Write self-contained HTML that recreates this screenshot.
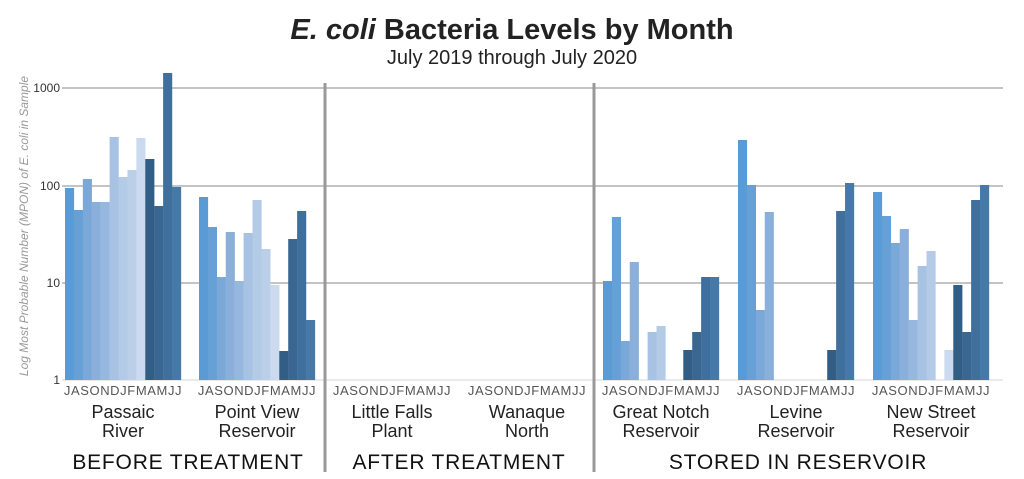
<!DOCTYPE html>
<html><head><meta charset="utf-8"><style>
body{margin:0;background:#fff;}
svg{display:block;font-family:"Liberation Sans",Arial,sans-serif;}
</style></head><body>
<svg width="1024" height="479" viewBox="0 0 1024 479" xmlns="http://www.w3.org/2000/svg">
<defs>
<style>
.c0{fill:#5a9bd5}.c1{fill:#66a0d6}.c2{fill:#7aa9d9}.c3{fill:#8aafdb}.c4{fill:#96b8df}.c5{fill:#a7c2e3}.c6{fill:#b3cbe7}.c7{fill:#bccfe9}.c8{fill:#cbdaee}.c9{fill:#325d85}.c10{fill:#3a6791}.c11{fill:#3f6f9c}.c12{fill:#4678a8}
</style>
</defs>
<text x="512" y="39" text-anchor="middle" font-size="29" font-weight="bold" fill="#222"><tspan font-style="italic">E. coli</tspan> Bacteria Levels by Month</text>
<text x="512" y="64" text-anchor="middle" font-size="20" fill="#222">July 2019 through July 2020</text>
<g stroke="#b0b0b0" stroke-width="1.5">
<line x1="62" y1="88" x2="1003" y2="88"/>
<line x1="62" y1="186" x2="1003" y2="186"/>
<line x1="62" y1="283" x2="1003" y2="283"/>
<line x1="62" y1="380" x2="1003" y2="380" stroke="#e4e4e4"/>
</g>
<g font-size="12" fill="#333" text-anchor="end">
<text x="60" y="92">1000</text><text x="60" y="190">100</text><text x="60" y="287">10</text><text x="60" y="384">1</text>
</g>
<text transform="translate(28,226) rotate(-90)" text-anchor="middle" font-size="12" font-style="italic" fill="#999">Log Most Probable Number (MPON) of E. coli in Sample</text>

<g transform="translate(65,0)">
<rect class="c0" x="0" y="188" width="9.1" height="192"/>
<rect class="c1" x="8.92" y="210" width="9.1" height="170"/>
<rect class="c2" x="17.84" y="179" width="9.1" height="201"/>
<rect class="c3" x="26.76" y="202" width="9.1" height="178"/>
<rect class="c4" x="35.68" y="202" width="9.1" height="178"/>
<rect class="c5" x="44.6" y="137" width="9.1" height="243"/>
<rect class="c6" x="53.52" y="177" width="9.1" height="203"/>
<rect class="c7" x="62.44" y="170" width="9.1" height="210"/>
<rect class="c8" x="71.36" y="138" width="9.1" height="242"/>
<rect class="c9" x="80.28" y="159" width="9.1" height="221"/>
<rect class="c10" x="89.2" y="206" width="9.1" height="174"/>
<rect class="c11" x="98.12" y="73" width="9.1" height="307"/>
<rect class="c12" x="107.04" y="187" width="9.1" height="193"/>
</g>
<g transform="translate(199,0)">
<rect class="c0" x="0" y="197" width="9.1" height="183"/>
<rect class="c1" x="8.92" y="227" width="9.1" height="153"/>
<rect class="c2" x="17.84" y="277" width="9.1" height="103"/>
<rect class="c3" x="26.76" y="232" width="9.1" height="148"/>
<rect class="c4" x="35.68" y="281" width="9.1" height="99"/>
<rect class="c5" x="44.6" y="233" width="9.1" height="147"/>
<rect class="c6" x="53.52" y="200" width="9.1" height="180"/>
<rect class="c7" x="62.44" y="249" width="9.1" height="131"/>
<rect class="c8" x="71.36" y="285" width="9.1" height="95"/>
<rect class="c9" x="80.28" y="351" width="9.1" height="29"/>
<rect class="c10" x="89.2" y="239" width="9.1" height="141"/>
<rect class="c11" x="98.12" y="211" width="9.1" height="169"/>
<rect class="c12" x="107.04" y="320" width="9.1" height="60"/>
</g>
<g transform="translate(603,0)">
<rect class="c0" x="0" y="281" width="9.1" height="99"/>
<rect class="c1" x="8.92" y="217" width="9.1" height="163"/>
<rect class="c2" x="17.84" y="341" width="9.1" height="39"/>
<rect class="c3" x="26.76" y="262" width="9.1" height="118"/>
<rect class="c5" x="44.6" y="332" width="9.1" height="48"/>
<rect class="c6" x="53.52" y="326" width="9.1" height="54"/>
<rect class="c9" x="80.28" y="350" width="9.1" height="30"/>
<rect class="c10" x="89.2" y="332" width="9.1" height="48"/>
<rect class="c11" x="98.12" y="277" width="9.1" height="103"/>
<rect class="c12" x="107.04" y="277" width="9.1" height="103"/>
</g>
<g transform="translate(738,0)">
<rect class="c0" x="0" y="140" width="9.1" height="240"/>
<rect class="c1" x="8.92" y="185" width="9.1" height="195"/>
<rect class="c2" x="17.84" y="310" width="9.1" height="70"/>
<rect class="c3" x="26.76" y="212" width="9.1" height="168"/>
<rect class="c9" x="89.2" y="350" width="9.1" height="30"/>
<rect class="c11" x="98.12" y="211" width="9.1" height="169"/>
<rect class="c12" x="107.04" y="183" width="9.1" height="197"/>
</g>
<g transform="translate(873,0)">
<rect class="c0" x="0" y="192" width="9.1" height="188"/>
<rect class="c1" x="8.92" y="216" width="9.1" height="164"/>
<rect class="c2" x="17.84" y="243" width="9.1" height="137"/>
<rect class="c3" x="26.76" y="229" width="9.1" height="151"/>
<rect class="c4" x="35.68" y="320" width="9.1" height="60"/>
<rect class="c5" x="44.6" y="266" width="9.1" height="114"/>
<rect class="c6" x="53.52" y="251" width="9.1" height="129"/>
<rect class="c8" x="71.36" y="350" width="9.1" height="30"/>
<rect class="c9" x="80.28" y="285" width="9.1" height="95"/>
<rect class="c10" x="89.2" y="332" width="9.1" height="48"/>
<rect class="c11" x="98.12" y="200" width="9.1" height="180"/>
<rect class="c12" x="107.04" y="185" width="9.1" height="195"/>
</g>

<g stroke="#999" stroke-width="3">
<line x1="325" y1="83" x2="325" y2="472"/>
<line x1="594" y1="83" x2="594" y2="472"/>
</g>
<g font-size="13" fill="#555" text-anchor="middle" letter-spacing="0.6">
<text x="123" y="395">JASONDJFMAMJJ</text>
<text x="257" y="395">JASONDJFMAMJJ</text>
<text x="392" y="395">JASONDJFMAMJJ</text>
<text x="527" y="395">JASONDJFMAMJJ</text>
<text x="661" y="395">JASONDJFMAMJJ</text>
<text x="796" y="395">JASONDJFMAMJJ</text>
<text x="931" y="395">JASONDJFMAMJJ</text>
</g>
<g font-size="18" fill="#222" text-anchor="middle">
<text x="123" y="418">Passaic</text><text x="123" y="437">River</text>
<text x="257" y="418">Point View</text><text x="257" y="437">Reservoir</text>
<text x="392" y="418">Little Falls</text><text x="392" y="437">Plant</text>
<text x="527" y="418">Wanaque</text><text x="527" y="437">North</text>
<text x="661" y="418">Great Notch</text><text x="661" y="437">Reservoir</text>
<text x="796" y="418">Levine</text><text x="796" y="437">Reservoir</text>
<text x="931" y="418">New Street</text><text x="931" y="437">Reservoir</text>
</g>
<g font-size="21" fill="#111" text-anchor="middle" letter-spacing="0.8">
<text x="188" y="469">BEFORE TREATMENT</text>
<text x="459" y="469">AFTER TREATMENT</text>
<text x="798" y="469">STORED IN RESERVOIR</text>
</g>
</svg>
</body></html>
